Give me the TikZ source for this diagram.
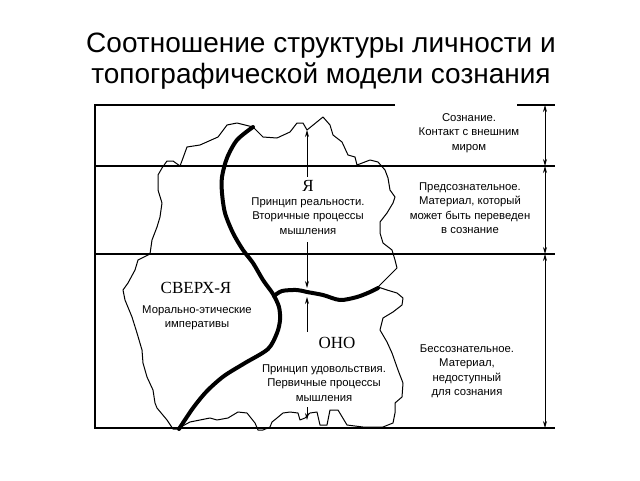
\documentclass[tikz,border=0pt]{standalone}
\usepackage{fontspec}
\setmainfont{Liberation Sans}
\newfontfamily\cyrserif{Liberation Serif}
\usetikzlibrary{arrows.meta}

\begin{document}
\begin{tikzpicture} [x=1pt, y=-1pt,
  frame/.style={line width=1.6pt},
  border/.style={line width=4pt,line cap=round,line join=round},
  outline/.style={line width=1pt,line join=round},
  dim/.style={<->,>={Stealth[length=7pt,width=4pt]},line width=0.8pt},
  descr/.style={fill=white,inner sep=1pt,align=center,font=\fontsize{11.3}{14.5}\selectfont},
  part/.style={fill=white,inner sep=1pt,font=\cyrserif\fontsize{17}{17}\selectfont}
  ]
  \useasboundingbox (0,0) rectangle (640,480);
  \node[align=center,font=\fontsize{28}{31}\selectfont] (title) at (321,61)
    {Соотношение структуры личности и\\топографической модели сознания};

  % levels
  \draw[frame] (395,105) -- (95,105) -- (95,428) -- (555,428);
  \draw[frame] (517,105) -- (555,105);
  \draw[frame] (95,166) -- (555,166);
  \draw[frame] (95,254) -- (555,254);

  % psyche outline
  \draw[outline] (150,254) -- (152,240) -- (157,227) -- (160,217) -- (162,203)
    -- (158,190) -- (158,175) -- (162,168) -- (167,161) -- (173,161) -- (180,166)
    -- (183,158) -- (187,147) -- (200,145) -- (218,137) -- (227,125) -- (237,123)
    -- (253,127) -- (263,137) -- (277,138) -- (290,132) -- (297,123) -- (303,123)
    -- (307,130) -- (323,117) -- (330,125) -- (333,135) -- (342,142) -- (348,155)
    -- (355,157) -- (357,165) -- (370,160) -- (378,162) -- (385,170) -- (388,178)
    -- (390,190) -- (395,197) -- (393,203) -- (387,213) -- (380,222) -- (380,233)
    -- (383,243) -- (392,250) -- (395,260) -- (397,268) -- (388,277) -- (378,287)
    -- (387,290) -- (397,293) -- (403,298) -- (402,305) -- (393,312) -- (383,318)
    -- (380,330) -- (387,342) -- (392,353) -- (398,370) -- (403,383) -- (402,397)
    -- (395,403) -- (395,413) -- (393,423) -- (383,427) -- (363,427) -- (347,425)
    -- (338,410) -- (330,410) -- (327,425) -- (320,425) -- (317,412) -- (310,413)
    -- (305,418) -- (300,420) -- (298,413) -- (290,412) -- (283,413) -- (277,418)
    -- (272,422) -- (270,427) -- (263,430) -- (258,430) -- (255,423) -- (247,413)
    -- (238,412) -- (228,418) -- (217,420) -- (210,418) -- (200,420) -- (190,422)
    -- (177,429) -- (173,429) -- (167,420) -- (157,408) -- (155,403) -- (153,390)
    -- (147,377) -- (143,363) -- (142,350) -- (137,333) -- (132,317) -- (125,300)
    -- (123,290) -- (128,283) -- (135,270) -- (138,260) -- cycle;

  % borders between the parts
  \draw[border] plot[smooth] coordinates {(253,127) (237,140) (227,158) (222,177)
    (222,193) (225,213) (233,233) (243,250) (253,263) (263,280) (273,294) (279,307)
    (280,320) (277,333) (268,349) (245,363) (224,376) (207,391) (193,408) (179,429)};
  \draw[border] plot[smooth] coordinates {(274,296) (282,291) (297,290) (307,292)
    (323,295) (340,300) (357,297) (370,292) (378,288)};

  \coordinate (r0) at (545,105);
  \coordinate (r1) at (545,166);
  \coordinate (r2) at (545,254);
  \coordinate (r3) at (545,428);
  \coordinate (ytop) at (307,130);
  \coordinate (ybot) at (307,288);
  \coordinate (otop) at (307,297);
  \coordinate (obot) at (307,420);
  \coordinate (ya) at (307,177);
  \coordinate (yb) at (307,242);
  \coordinate (oa) at (307,332);
  \coordinate (ob) at (307,407);

  \path[dim]
  (r0) edge (r1)
  (r1) edge (r2)
  (r2) edge (r3)
  ;
  \path[dim,<-]
  (ytop) edge (ya)
  (otop) edge (oa)
  ;
  \path[dim,->]
  (yb) edge (ybot)
  (ob) edge (obot)
  ;

  \node[part] (ego) at (308,186) {Я};
  \node[descr] (egotext) at (308,216) {Принцип реальности.\\Вторичные процессы\\мышления};
  \node[part] (superego) at (196,288) {СВЕРХ-Я};
  \node[descr] (superegotext) at (197,318) {Морально-этические\\императивы};
  \node[part] (id) at (337,343) {ОНО};
  \node[descr] (idtext) at (324,383) {Принцип удовольствия.\\Первичные процессы\\мышления};

  \node[descr] (conscious) at (469,133) {Сознание.\\Контакт с внешним\\миром};
  \node[descr] (preconscious) at (470,208) {Предсознательное.\\Материал, который\\может быть переведен\\в сознание};
  \node[descr] (unconscious) at (467,371) {Бессознательное.\\Материал,\\недоступный\\для сознания};
\end{tikzpicture}
\end{document}
